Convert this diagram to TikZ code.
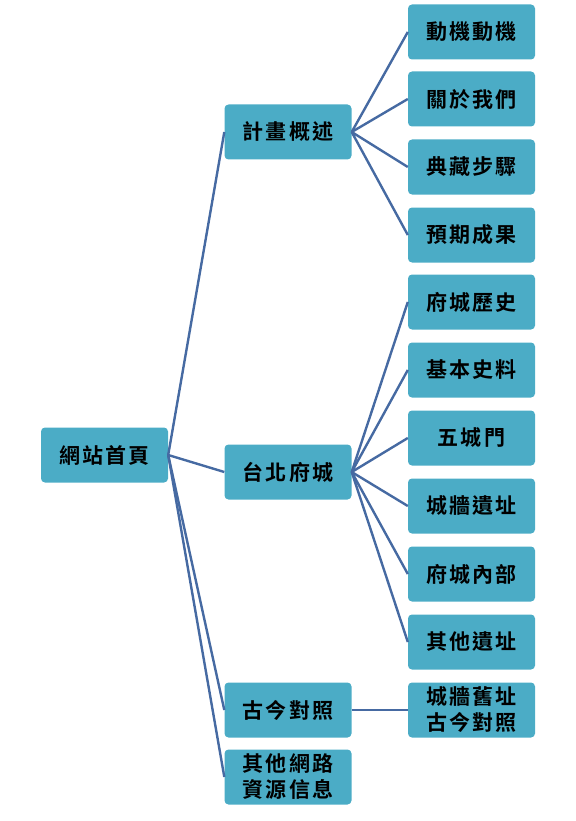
\documentclass[tikz,border=0pt]{standalone}
\usepackage{fontspec}
\newfontfamily\cjk[LetterSpace=10,BoldFont={Noto Sans CJK TC Bold}]{Noto Sans CJK TC}
\definecolor{boxblue}{RGB}{75,172,198}
\definecolor{linkblue}{RGB}{70,106,162}

\begin{document}
\begin{tikzpicture}[x=1pt, y=-1pt,
  box/.style={fill=boxblue, rounded corners=4pt, minimum width=127pt,
    minimum height=55pt, inner sep=0pt, align=center,
    font=\cjk\bfseries\fontsize{21}{26}\selectfont},
  link/.style={draw=linkblue, line width=2.4pt}]
  \useasboundingbox (0,0) rectangle (575,821);

  % root and second level
  \node[box] (home) at (104.5,455) {網站首頁};
  \node[box] (plan) at (288,132) {計畫概述};
  \node[box] (city) at (288,472) {台北府城};
  \node[box] (comp) at (288,710) {古今對照};
  \node[box] (links) at (288,777) {其他網路\\資源信息};

  % leaves
  \node[box] (motive) at (471.5,32) {動機動機};
  \node[box] (about) at (471.5,99) {關於我們};
  \node[box] (steps) at (471.5,167) {典藏步驟};
  \node[box] (result) at (471.5,235) {預期成果};
  \node[box] (hist) at (471.5,302) {府城歷史};
  \node[box] (data) at (471.5,370) {基本史料};
  \node[box] (gates) at (471.5,438) {五城門};
  \node[box] (walls) at (471.5,506) {城牆遺址};
  \node[box] (inner) at (471.5,574) {府城內部};
  \node[box] (other) at (471.5,642) {其他遺址};
  \node[box] (old) at (471.5,710) {城牆舊址\\古今對照};

  \foreach \n in {plan,city,comp,links}
    \draw[link] (home.east) -- (\n.west);
  \foreach \n in {motive,about,steps,result}
    \draw[link] (plan.east) -- (\n.west);
  \foreach \n in {hist,data,gates,walls,inner,other}
    \draw[link] (city.east) -- (\n.west);
  \draw[link] (comp.east) -- (old.west);
\end{tikzpicture}
\end{document}
